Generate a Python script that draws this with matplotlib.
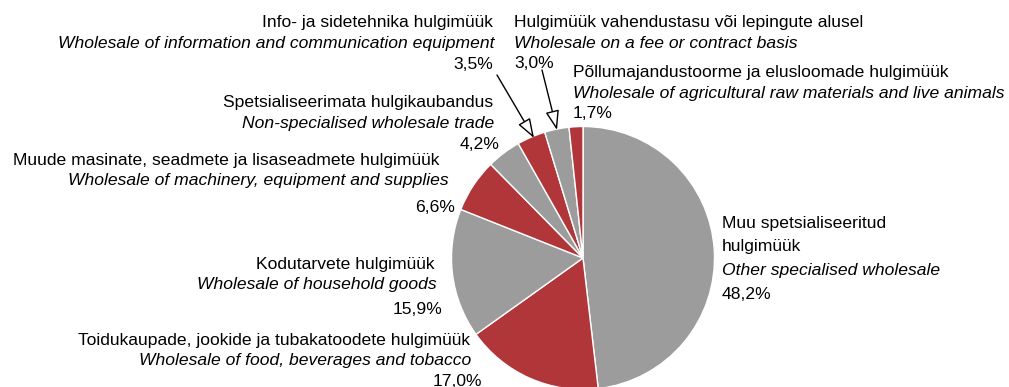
import matplotlib
matplotlib.use("Agg")
import matplotlib.pyplot as plt

# Wholesale trade structure by activity (share of total, %)
est_names = [
    "Muu spetsialiseeritud\nhulgimüük",
    "Toidukaupade, jookide ja tubakatoodete hulgimüük",
    "Kodutarvete hulgimüük",
    "Muude masinate, seadmete ja lisaseadmete hulgimüük",
    "Spetsialiseerimata hulgikaubandus",
    "Info- ja sidetehnika hulgimüük",
    "Hulgimüük vahendustasu või lepingute alusel",
    "Põllumajandustoorme ja elusloomade hulgimüük",
]
eng_names = [
    "Other specialised wholesale",
    "Wholesale of food, beverages and tobacco",
    "Wholesale of household goods",
    "Wholesale of machinery, equipment and supplies",
    "Non-specialised wholesale trade",
    "Wholesale of information and communication equipment",
    "Wholesale on a fee or contract basis",
    "Wholesale of agricultural raw materials and live animals",
]
shares = [48.2, 17.0, 15.9, 6.6, 4.2, 3.5, 3.0, 1.7]

RED = "#B1363A"
GREY = "#9C9C9C"
colors = [GREY, RED, GREY, RED, GREY, RED, GREY, RED]

W, H = 1009, 387
fig = plt.figure(figsize=(W / 100, H / 100), dpi=100)
ax = fig.add_axes([0, 0, 1, 1])


def py(y):
    # pixel row (from top) -> data y (from bottom)
    return H - y


ax.pie(shares, colors=colors, startangle=90, counterclock=False,
       center=(583, py(258)), radius=131.5,
       wedgeprops=dict(edgecolor="white", linewidth=1.0))
ax.set_xlim(0, W)
ax.set_ylim(0, H)
ax.set_aspect("equal")
ax.axis("off")

FONT = "Liberation Sans"
FS = 12.6

# label placement: horizontal alignment and (x, baseline) for each text line
layout = [
    ("left", [(722, 228), (722, 251), (722, 275), (722, 299)]),
    ("right", [(470, 345), (471, 365), (482, 386)]),
    ("right", [(435, 269), (437, 289), (442, 314)]),
    ("right", [(439, 165), (449, 185), (455, 212)]),
    ("right", [(493, 107), (494, 128), (500, 149)]),
    ("right", [(493, 27), (494, 48), (493, 69)]),
    ("left", [(514, 27), (514, 48), (514, 68)]),
    ("left", [(573, 77), (573, 98), (573, 118)]),
]

for est, eng, val, (ha, pos) in zip(est_names, eng_names, shares, layout):
    pct = f"{val:.1f}%".replace(".", ",")
    lines = est.split("\n") + [eng, pct]
    styles = ["normal"] * len(est.split("\n")) + ["italic", "normal"]
    for text, st, (x, y) in zip(lines, styles, pos):
        ax.text(x, py(y), text, ha=ha, va="baseline", fontsize=FS,
                family=FONT, style=st, color="black")

# leader arrows for the two narrow slices
arrow_kw = dict(arrowstyle="-|>,head_length=1.2,head_width=0.42",
                fc="white", ec="black", lw=1.0, mutation_scale=10,
                shrinkA=0, shrinkB=0)
ax.annotate("", xy=(534, py(138)), xytext=(497, py(75)), arrowprops=arrow_kw)
ax.annotate("", xy=(557, py(130)), xytext=(542, py(70)), arrowprops=arrow_kw)

fig.savefig("out.png", dpi=100)
